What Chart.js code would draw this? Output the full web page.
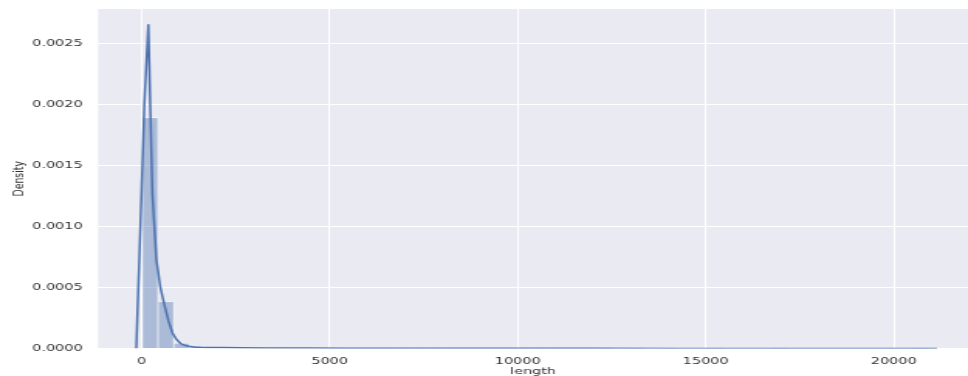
<!DOCTYPE html>
<html><head><meta charset="utf-8">
<script src="https://cdn.jsdelivr.net/npm/chart.js@4/dist/chart.umd.min.js"></script>
<style>
html,body{margin:0;padding:0;background:#fff;overflow:hidden}
#wrap{width:625px;height:376px;transform:scaleX(1.5488);transform-origin:0 0}
canvas{display:block}
</style></head><body>
<div id="wrap"><canvas id="c" width="625" height="376"></canvas></div>
<script>
// Histogram bins (centers of "length" bins) and densities
const binCenters = [225, 643, 1061, 1479, 1897, 2315, 2733, 3151, 3569, 3987, 4405, 4823, 5241, 5659, 6077, 6495, 6913, 7331, 7749, 8167, 8585, 9003, 9421, 9839, 10257, 10675, 11093, 11511, 11929, 12347, 12765, 13183, 13601, 14019, 14437, 14855, 15273, 15691, 16109, 16527, 16945, 17363, 17781, 18199, 18617, 19035, 19453, 19871, 20289, 20707];
const binDensity = [0.001895, 0.000384, 0.0000427, 0.000016, 0.000008, 0.000005, 0.0000035, 0.0000025, 0.000002, 0.0000015, 0.0000012, 0.000001, 0.0000008, 0.0000007, 0.0000006, 0.0000005, 0.0000004, 0.0000004, 0.0000003, 0.0000003, 0.0000003, 0.0000002, 0.0000002, 0.0000002, 0.0000002, 0.0000001, 0.0000001, 0.0000001, 0.0000001, 0.0000001, 0, 0.0000001, 0, 0.0000001, 0, 0, 0.0000001, 0, 0, 0, 0.0000001, 0, 0, 0, 0, 0, 0, 0, 0, 0.0000001];
// KDE curve
const kdeX = [-144, -37, 70, 177, 284, 391, 498, 605, 712, 819, 926, 1033, 1140, 1247, 1354, 1461, 1568, 1782, 2103, 2638, 3280, 4350, 5420, 6811, 8202, 10128, 12054, 14194, 16334, 18474, 20079, 21149];
const kdeY = [0.000000, 0.000973, 0.002000, 0.002662, 0.001268, 0.000727, 0.000497, 0.000357, 0.000226, 0.000127, 0.000074, 0.000041, 0.000026, 0.000019, 0.000014, 0.000011, 0.0000098, 0.0000085, 0.0000072, 0.0000058, 0.0000046, 0.0000036, 0.0000029, 0.0000024, 0.0000020, 0.0000016, 0.0000013, 0.0000010, 0.0000008, 0.0000006, 0.0000004, 0.0000001];
// Tick labels
const xTicks = [0, 5000, 10000, 15000, 20000];
const yTicks = [0.0000, 0.0005, 0.0010, 0.0015, 0.0020, 0.0025];
const xTitle = 'length';
const yTitle = 'Density';

const FONT = 'DejaVu Sans';
const bgPlugin = {
  id: 'bg',
  beforeDraw(chart) {
    const {ctx, chartArea: a} = chart;
    ctx.save();
    ctx.fillStyle = '#EAEAF2';
    ctx.fillRect(a.left, a.top, a.right - a.left, a.bottom - a.top);
    ctx.restore();
  }
};

new Chart(document.getElementById('c'), {
  type: 'bar',
  data: {
    datasets: [
      {
        type: 'line',
        data: kdeX.map((x, i) => ({x, y: kdeY[i]})),
        borderColor: '#4C72B0',
        borderWidth: 1.5,
        pointRadius: 0,
        tension: 0,
        fill: false,
        order: 0
      },
      {
        type: 'bar',
        data: binCenters.map((x, i) => ({x, y: binDensity[i]})),
        backgroundColor: 'rgba(76,114,176,0.4)',
        borderColor: 'rgba(255,255,255,0.75)',
        borderWidth: 0.6,
        barPercentage: 1,
        categoryPercentage: 1,
        order: 1
      }
    ]
  },
  options: {
    responsive: false,
    devicePixelRatio: 1,
    animation: false,
    layout: {padding: {top: 9, left: 0, right: 0, bottom: 0}},
    plugins: {legend: {display: false}, tooltip: {enabled: false}},
    scales: {
      x: {
        type: 'linear',
        offset: false,
        min: -1161,
        max: 21976,
        grid: {color: '#FFFFFF', lineWidth: 1, drawTicks: false, offset: false},
        border: {display: false},
        afterBuildTicks: s => { s.ticks = xTicks.map(v => ({value: v})); },
        afterFit: s => { s.height = 27.5; s.paddingLeft = 0; s.paddingRight = 0; },
        ticks: {
          color: '#333333',
          font: {family: FONT, size: 9.3},
          padding: 8,
          maxRotation: 0,
          callback: v => String(v)
        },
        title: {display: true, text: xTitle, color: '#333333', font: {family: FONT, size: 9.3, lineHeight: 1.0}, padding: {top: 0, bottom: 0}}
      },
      y: {
        type: 'linear',
        min: 0,
        max: 0.002787,
        grid: {color: '#FFFFFF', lineWidth: 1, drawTicks: false},
        border: {display: false},
        afterBuildTicks: s => { s.ticks = yTicks.map(v => ({value: v})); },
        afterFit: s => { s.width = 63.3; s.paddingTop = 0; s.paddingBottom = 0; },
        ticks: {
          color: '#333333',
          font: {family: FONT, size: 9.3},
          padding: 10,
          callback: v => Number(v).toFixed(4)
        },
        title: {display: true, text: yTitle, color: '#333333', font: {family: FONT, size: 9.3}, padding: {top: 6.7, bottom: 0}}
      }
    }
  },
  plugins: [bgPlugin]
});
</script>
</body></html>
